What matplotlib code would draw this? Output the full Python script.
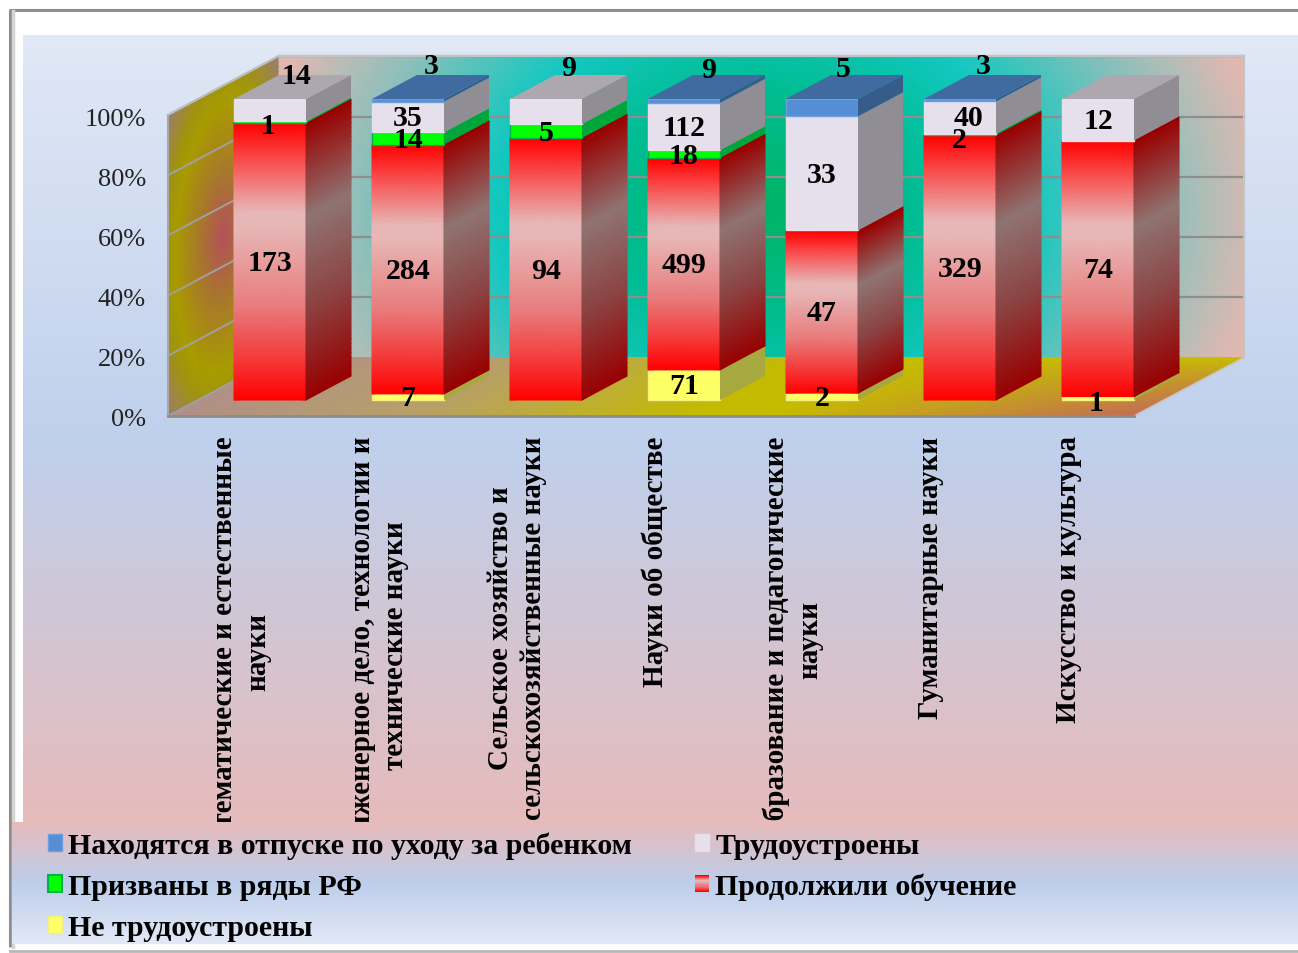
import numpy as np
import matplotlib
matplotlib.use("Agg")
import matplotlib.pyplot as plt
from matplotlib.colors import to_rgb
from matplotlib.legend_handler import HandlerBase
from matplotlib.patches import Patch, Rectangle

categories = ["Математические и естественные\nнауки",
              "Инженерное дело, технологии и\nтехнические науки",
              "Сельское хозяйство и\nсельскохозяйственные науки",
              "Науки об обществе",
              "Образование и педагогические\nнауки",
              "Гуманитарные науки",
              "Искусство и культура"]
not_employed = [0, 7, 0, 71, 2, 0, 1]
continued = [173, 284, 94, 499, 47, 329, 74]
drafted = [1, 14, 5, 18, 0, 2, 0]
employed = [14, 35, 9, 112, 33, 40, 12]
parental = [0, 3, 0, 9, 5, 3, 0]
series_names = ["Не трудоустроены", "Продолжили обучение", "Призваны в ряды РФ",
                "Трудоустроены", "Находятся в отпуске по уходу за ребенком"]
pct_ticks = [0, 20, 40, 60, 80, 100]

W, H = 1298, 954
FONT = "Liberation Serif"
plt.rcParams["font.family"] = FONT

series = [not_employed, continued, drafted, employed, parental]
front = ["#FFFF66", None, "#00FF00", "#E6E0EC", "#558ED5"]
edge = ["#F4F080", None, "#00B050", "#E6E0EC", "#6C9FE0"]
side = ["#A8A840", None, "#00A63C", "#908E94", "#365C8C"]
top = ["#B0B040", "#990000", "#00A040", "#ADA8B0", "#3F6BA0"]

# label shifts (pixels) for labels moved by hand in the source chart
label_shift = {(3, 0): (27, 36), (2, 0): (-2, -2), (4, 1): (23, 36), (3, 2): (23, 45),
               (4, 3): (25, 32), (4, 4): (21, 40), (4, 5): (23, 36), (3, 5): (9, 1),
               (2, 5): (-1, -4), (0, 6): (-2, -3)}
LABEL_LIFT = 2


def grad(stops, t):
    t = np.asarray(t, float)
    xs = [s[0] for s in stops]
    rgb = np.array([to_rgb(s[1]) for s in stops])
    return np.stack([np.interp(t, xs, rgb[:, i]) for i in range(3)], axis=-1)


RED_F = [(0, "#FF0000"), (0.14, "#F85050"), (0.32, "#E7B6B6"), (0.38, "#E8B6B6"),
         (0.66, "#E87C7C"), (0.85, "#F43A3A"), (1, "#FF0000")]
RED_S = [(0, "#990000"), (0.34, "#8F7472"), (0.66, "#8C4444"), (1, "#990000")]


def rect(l, t, r, b):
    return [l / W, 1 - b / H, (r - l) / W, (b - t) / H]


fig = plt.figure(figsize=(W / 100, H / 100), dpi=100, facecolor="white")

# page background
bg = fig.add_axes([0, 0, 1, 1], zorder=0)
bg.set_xlim(0, W); bg.set_ylim(H, 0); bg.axis("off")
ys = np.linspace(0, 1, 200)[:, None]
bg.imshow(grad([(0, "#E1E8F6"), (0.52, "#BFD0EC"), (1, "#E6BBBB")], ys), extent=(23, W, 823, 36), aspect="auto")
bg.plot([10, 10, W], [H - 6, 11, 11], color="#8E8E8E", lw=2.2, solid_capstyle="butt")
bg.plot([12.5, 12.5], [12, H - 6], color="#D4D4D4", lw=2.5)
bg.plot([10, W], [952, 952], color="#B8B8B8", lw=2)

# data axes: plane of the bar fronts
ax = fig.add_axes(rect(201, 100, 1167, 401), zorder=1)
ax.set_autoscale_on(False)
ax.set_xlim(0, 7); ax.set_ylim(0, 100); ax.axis("off")

# depth of the plot box and of a bar, in data units
FX, FY = -33 / 138, -16 / 3.01
BX, BY = 77 / 138, 42.5 / 3.01
DX, DY = 45 / 138, 24 / 3.01
BAR_L = 33 / 138
BAR_W = 72 / 138


def mesh(origin, e1, e2, fn, n=60):
    u, v = np.meshgrid(np.linspace(0, 1, n), np.linspace(0, 1, n))
    X = origin[0] + u * e1[0] + v * e2[0]
    Y = origin[1] + u * e1[1] + v * e2[1]
    C = np.concatenate([fn(u, v), np.ones(u.shape + (1,))], axis=-1)
    return ax.pcolormesh(X, Y, C, shading="gouraud", clip_on=False, zorder=1)


def back_col(u, v):
    t = np.sqrt((2 * (u - 0.5)) ** 2 + (0.4 * 2 * (v - 0.5)) ** 2)
    return grad([(0, "#00B464"), (0.3, "#00BC90"), (0.55, "#12C8C0"), (0.82, "#8CBFBA"),
                 (0.92, "#B0BEB8"), (1.05, "#E2B8B0")], t)


def left_col(u, v):
    t = np.sqrt((2 * (u - 0.5)) ** 2 + (2 * (v - 0.5)) ** 2) / np.sqrt(2)
    return grad([(0, "#B5505C"), (0.3, "#A8782C"), (0.62, "#A89C00"), (0.75, "#A09410"), (1, "#9C7C70")], t)


def floor_col(u, v):
    base = grad([(0, "#B09088"), (0.25, "#B8A068"), (0.55, "#C4BC00"), (1, "#C8C000")], u)
    w = (np.clip((u - 0.62) / 0.38, 0, 1) * (1 - v) ** 0.7)[..., None]
    return base * (1 - w) + np.array(to_rgb("#C26C58")) * w


wall_h = 100
mesh((BX, BY), (7, 0), (0, wall_h), back_col)
mesh((FX, FY), (BX - FX, BY - FY), (0, wall_h), left_col)
mesh((FX, FY), (7, 0), (BX - FX, BY - FY), floor_col)

for p in pct_ticks:
    ax.plot([FX, BX], [FY + p, BY + p], color="#A0A0A0", lw=1.4, clip_on=False, zorder=2)
    if p:
        ax.plot([BX, BX + 7], [BY + p, BY + p], color="#8E8E8E", lw=1.6, clip_on=False, zorder=2)
ax.plot([BX, BX + 7, BX + 7], [BY + 100, BY + 100, BY], color="#C4C4C4", lw=1.5, clip_on=False, zorder=2)
ax.plot([FX, BX], [FY + 100, BY + 100], color="#C0C0C0", lw=1.2, clip_on=False, zorder=2)
ax.plot([FX + 7, BX + 7], [FY, BY], color="#C8C8C8", lw=1.2, clip_on=False, zorder=2)

# stacked bars
for c in range(len(categories)):
    vals = [s[c] for s in series]
    total = sum(vals)
    x0 = c + BAR_L
    cx = x0 + BAR_W / 2
    bottom = 0.0
    for s, v in enumerate(vals):
        if v == 0:
            continue
        h = 100 * v / total
        if s == 1:
            yy = np.linspace(bottom, bottom + h, 60)
            tt = (bottom + h - yy) / h
            ax.pcolormesh(np.array([[x0, x0 + BAR_W]] * 60),
                          np.column_stack([yy, yy]),
                          np.concatenate([np.stack([grad(RED_F, tt)] * 2, axis=1),
                                          np.ones((60, 2, 1))], axis=2),
                          shading="gouraud", clip_on=False, zorder=5)
            xs = np.array([[x0 + BAR_W, x0 + BAR_W + DX]] * 60)
            ax.pcolormesh(xs, np.column_stack([yy, yy + DY]),
                          np.concatenate([np.stack([grad(RED_S, tt)] * 2, axis=1),
                                          np.ones((60, 2, 1))], axis=2),
                          shading="gouraud", clip_on=False, zorder=5)
        else:
            ax.bar(x0, h, BAR_W, bottom=bottom, align="edge", color=front[s],
                   edgecolor=edge[s], linewidth=1.0, clip_on=False, zorder=5)
            ax.fill([x0 + BAR_W, x0 + BAR_W + DX, x0 + BAR_W + DX, x0 + BAR_W],
                    [bottom, bottom + DY, bottom + h + DY, bottom + h],
                    color=side[s], lw=0, clip_on=False, zorder=5)
        bottom += h
    ts = max(i for i, v in enumerate(vals) if v)
    ax.fill([x0, x0 + BAR_W, x0 + BAR_W + DX, x0 + DX], [100, 100, 100 + DY, 100 + DY],
            color=top[ts], lw=0, clip_on=False, zorder=5)
    bottom = 0.0
    for s, v in enumerate(vals):
        if v == 0:
            continue
        h = 100 * v / total
        dx, dy = label_shift.get((s, c), (0, 0))
        ax.annotate(str(v), (cx, bottom + h / 2), xytext=(dx * 0.72, (dy + LABEL_LIFT) * 0.72),
                    textcoords="offset points", ha="center", va="center_baseline",
                    fontsize=21.5, fontweight="bold", color="black",
                    annotation_clip=False, zorder=10)
        bottom += h

# axis plane: ticks, labels, spines
pl = fig.add_axes(rect(168, 117, 1134, 417), zorder=2)
pl.patch.set_alpha(0)
pl.set_xlim(0, 7); pl.set_ylim(0, 100)
for sp in ("top", "right"):
    pl.spines[sp].set_visible(False)
pl.spines["bottom"].set_color("#8C8C8C"); pl.spines["bottom"].set_linewidth(2)
pl.spines["left"].set_color("#A8A8A8"); pl.spines["left"].set_linewidth(1.5)
pl.set_yticks(pct_ticks)
pl.set_yticklabels([f"{p}%" for p in pct_ticks], fontsize=19, color="#222222")
pl.set_xticks(np.arange(len(categories)) + 0.5 + 4 / 138)
pl.set_xticklabels(categories, rotation=90, fontsize=21, fontweight="bold", va="top", ha="center", linespacing=1.32)
pl.tick_params(axis="y", length=0, pad=16)
pl.tick_params(axis="x", length=0, pad=14)

# legend panel, drawn above the long category labels
lg = fig.add_axes(rect(12, 823, W, 945), zorder=3)
lg.set_xlim(0, 1); lg.set_ylim(1, 0); lg.axis("off")
lg.imshow(grad([(0, "#E7BBBB"), (0.5, "#BDCEEB"), (1, "#E3E9F6")], ys), extent=(0, 1, 1, 0), aspect="auto")


class GradHandler(HandlerBase):
    def create_artists(self, legend, orig, xd, yd, width, height, fontsize, trans):
        n = 16
        out = []
        cols = grad(RED_F, np.linspace(0, 1, n))
        for i in range(n):
            out.append(Rectangle((xd * -1, -yd + height * (n - 1 - i) / n), width, height / n + 0.3,
                                 facecolor=cols[i], edgecolor="none", transform=trans))
        return out


h_parental = Patch(facecolor=front[4], edgecolor=edge[4])
h_drafted = Patch(facecolor=front[2], edgecolor=edge[2], linewidth=1.5)
h_none = Patch(facecolor=front[0], edgecolor=edge[0])
h_emp = Patch(facecolor=front[3], edgecolor=edge[3])
h_cont = Patch(facecolor="#FF0000")
leg = lg.legend([h_parental, h_drafted, h_none, h_emp, h_cont],
                [series_names[4], series_names[2], series_names[0], series_names[3], series_names[1]],
                ncol=2, loc="upper left", bbox_to_anchor=(36 / 1286, 0.925),
                bbox_transform=lg.transAxes,
                frameon=False, handler_map={h_cont: GradHandler()},
                prop={"family": FONT, "weight": "bold", "size": 21.5},
                handlelength=0.48, handleheight=0.5, handletextpad=0.2,
                labelspacing=0.475, columnspacing=2.1, borderpad=0, borderaxespad=0)

fig.savefig("out.png", dpi=100)
